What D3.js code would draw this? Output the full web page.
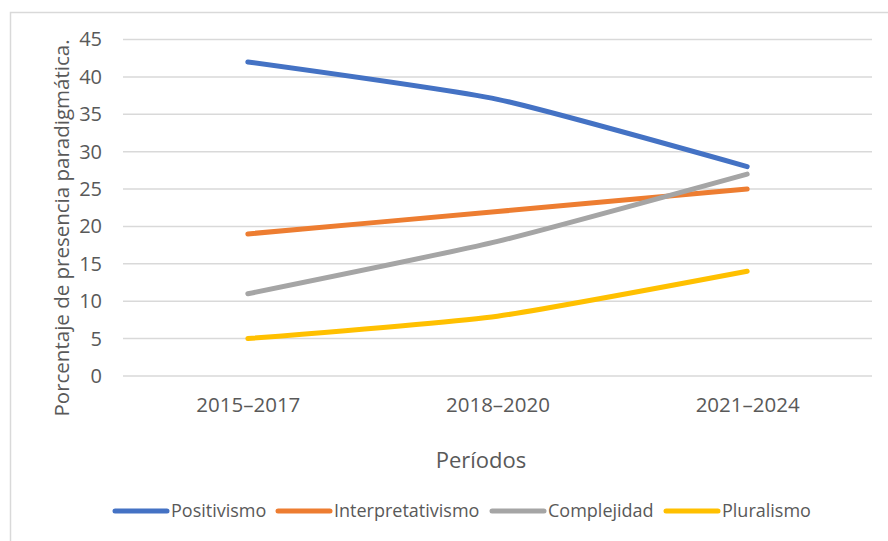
<!DOCTYPE html>
<html><head><meta charset="utf-8">
<script src="https://cdn.jsdelivr.net/npm/d3@7/dist/d3.min.js"></script>
<style>body{margin:0;background:#fff}svg{display:block}</style>
</head><body>
<script>
const categories = ["2015–2017","2018–2020","2021–2024"];
const seriesNames = ["Positivismo","Interpretativismo","Complejidad","Pluralismo"];
const positivismo = [42,37,28];
const interpretativismo = [19,22,25];
const complejidad = [11,18,27];
const pluralismo = [5,8,14];
const yTicks = [0,5,10,15,20,25,30,35,40,45];
const colors = ["#4472C4","#ED7D31","#A5A5A5","#FFC000"];
const series = [positivismo, interpretativismo, complejidad, pluralismo];

(function(){
const W = 888, H = 541;
const svg = d3.select("body").append("svg").attr("width",W).attr("height",H);
const font = "'Open Sans', sans-serif";
const textCol = "#595959";

svg.append("path").attr("d","M10.5,"+H+"V12.5H"+W).attr("fill","none").attr("stroke","#d9d9d9").attr("stroke-width",1.5);

const pl=123, pr=872, pt=39.5, pb=376;
const x = d3.scalePoint().domain(categories).range([pl,pr]).padding(0.5);
const y = d3.scaleLinear().domain([0,45]).range([pb,pt]);

svg.append("g").selectAll("line").data(yTicks).join("line")
  .attr("x1",pl).attr("x2",pr).attr("y1",d=>y(d)).attr("y2",d=>y(d))
  .attr("stroke","#d9d9d9").attr("stroke-width",1.5);

const yAxis = svg.append("g").attr("transform",`translate(${pl},0)`)
  .call(d3.axisLeft(y).tickValues(yTicks).tickSize(0).tickPadding(21));
yAxis.select(".domain").remove();
yAxis.selectAll("text").attr("font-family",font).attr("font-size",20).attr("fill",textCol);

const xAxis = svg.append("g").attr("transform",`translate(0,${pb})`)
  .call(d3.axisBottom(x).tickSize(0).tickPadding(21));
xAxis.select(".domain").remove();
xAxis.selectAll("text").attr("font-family",font).attr("font-size",20.5).attr("fill",textCol);

const line = d3.line().x((d,i)=>x(categories[i])).y(d=>y(d)).curve(d3.curveCardinal.tension(0.5));
svg.append("g").selectAll("path").data(series).join("path")
  .attr("d",d=>line(d)).attr("fill","none").attr("stroke",(d,i)=>colors[i])
  .attr("stroke-width",5).attr("stroke-linecap","round");

svg.append("text").attr("x",481).attr("y",468).attr("text-anchor","middle")
  .attr("font-family",font).attr("font-size",22).attr("fill",textCol).text("Períodos");
svg.append("text").attr("transform","translate(69,228) rotate(-90)").attr("text-anchor","middle")
  .attr("font-family",font).attr("font-size",20.5).attr("fill",textCol).text("Porcentaje de presencia paradigmática.");

const legendX = [115,278,492,666];
const lg = svg.append("g").selectAll("g").data(seriesNames).join("g")
  .attr("transform",(d,i)=>`translate(${legendX[i]},511)`);
lg.append("line").attr("x1",0).attr("x2",52).attr("stroke",(d,i)=>colors[i]).attr("stroke-width",5).attr("stroke-linecap","round");
lg.append("text").attr("x",56).attr("dy","0.35em").attr("font-family",font).attr("font-size",18).attr("fill",textCol).text(d=>d);
})();
</script>
</body></html>
